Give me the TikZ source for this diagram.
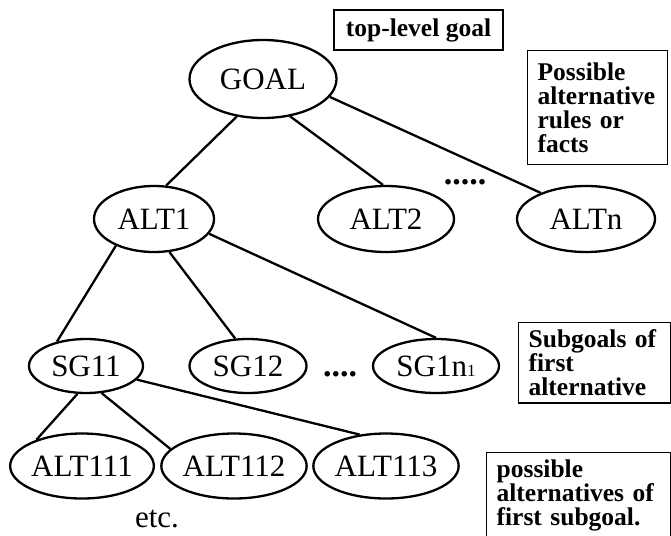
\documentclass[tikz,border=0pt]{standalone}
\usepackage{fontspec}
\setmainfont{Liberation Serif}
\usetikzlibrary{shapes.geometric}
\begin{document}
\begin{tikzpicture}[x=1pt,y=-1pt,
  treenode/.style={ellipse, draw, line width=2.3pt, inner sep=0pt, font=\fontsize{31}{36}\selectfont},
  infobox/.style={draw, line width=1.3pt, anchor=north west, align=left, inner xsep=10pt, font=\bfseries\fontsize{25.5}{24}\selectfont},
  link/.style={line width=2.3pt},
  dotsnode/.style={font=\bfseries\fontsize{34}{36}\selectfont, inner sep=0pt, anchor=base},
  plaintext/.style={font=\fontsize{31}{36}\selectfont, inner sep=0pt, anchor=base}
]
\useasboundingbox (0,0) rectangle (671,535);

% tree nodes
\node[treenode, minimum width=147pt, minimum height=78pt] (goal) at (263,79) {GOAL};
\node[treenode, minimum width=120pt, minimum height=66pt] (alt1) at (154,219) {ALT1};
\node[treenode, minimum width=136pt, minimum height=66pt] (alt2) at (386,219) {ALT2};
\node[treenode, minimum width=138pt, minimum height=66pt] (altn) at (586,219) {ALTn};
\node[treenode, minimum width=114pt, minimum height=54pt] (sg11) at (86,366) {SG11};
\node[treenode, minimum width=117pt, minimum height=54pt] (sg12) at (248,366) {SG12};
\node[treenode, minimum width=126pt, minimum height=54pt] (sg1n) at (436,366) {SG1n{\fontsize{17}{17}\selectfont 1}};
\node[treenode, minimum width=140pt, minimum height=65pt] (alt111) at (82,466) {ALT111};
\node[treenode, minimum width=138pt, minimum height=65pt] (alt112) at (234,466) {ALT112};
\node[treenode, minimum width=137pt, minimum height=65pt] (alt113) at (386,466) {ALT113};

% dots and etc.
\node[dotsnode] (dotsA) at (465,184) {.....};
\node[dotsnode] (dotsB) at (340,376) {....};
\node[plaintext] (etc) at (157,527) {etc.};

% boxes
\node[draw, line width=1.3pt, minimum width=169pt, minimum height=40pt, inner sep=0pt,
      font=\bfseries\fontsize{25.5}{24}\selectfont] (toplevel) at (418.5,30) {top-level goal};
\node[infobox, inner ysep=12pt, text width=120pt] (possrules) at (527,50)
  {Possible\\alternative\\rules or\\facts};
\node[infobox, inner ysep=7pt, text width=132pt] (subgoals) at (518,322)
  {Subgoals of\\first\\alternative};
\node[infobox, inner ysep=7pt, text width=164pt] (possalts) at (486,452)
  {possible\\alternatives of\\first subgoal.};

% connectors
\draw[link] (goal.235) -- (alt1.70);
\draw[link] (goal.306) -- (alt2.95);
\draw[link] (goal.345) -- (altn.150);
\draw[link] (alt1.215) -- (sg11.140);
\draw[link] (alt1.295) -- (sg12.115);
\draw[link] (alt1.345) -- (sg1n.90);
\draw[link] (sg11.253) -- (alt111.150);
\draw[link] (sg11.300) -- (alt112.165);
\draw[link] (sg11.345) -- (alt113.130);
\end{tikzpicture}
\end{document}
